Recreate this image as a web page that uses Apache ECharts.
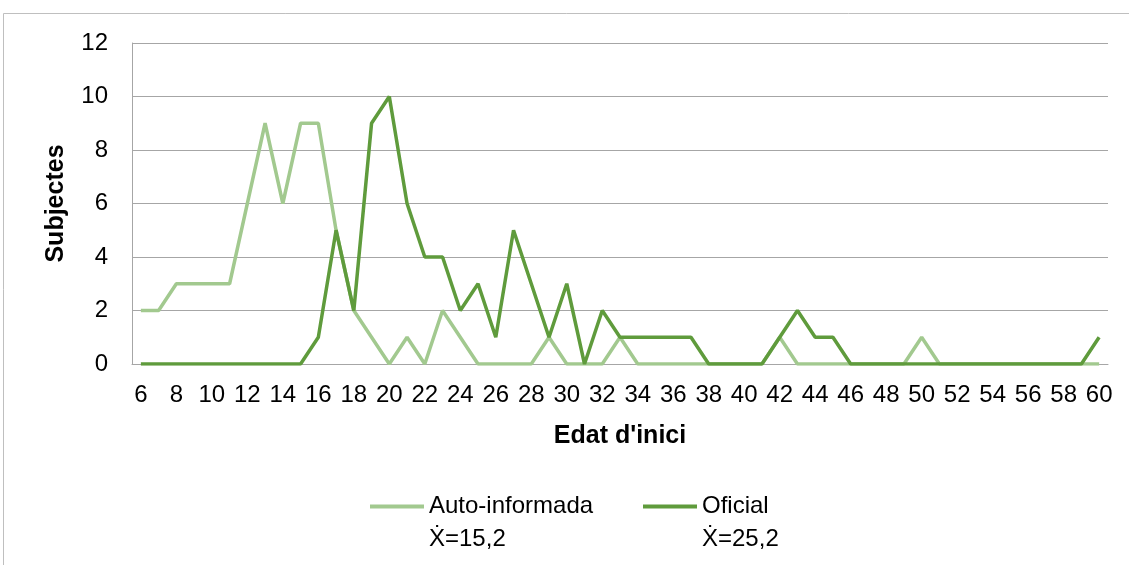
<!DOCTYPE html>
<html lang="ca">
<head>
    <meta charset="UTF-8">
    <title>Edat d'inici</title>
    <script src="https://cdn.jsdelivr.net/npm/echarts@6/dist/echarts.min.js"></script>
    <style>
        html, body { margin: 0; padding: 0; background: #fff; }
        #chart { width: 1129px; height: 565px; }
    </style>
</head>
<body>
    <div id="chart"></div>
    <script>
        // edats 6..60
        const ages = [];
        for (let a = 6; a <= 60; a++) ages.push(String(a));

        const autoInformada = [
            2, 2, 3, 3, 3, 3, 6, 9, 6, 9,   // 6-15
            9, 5, 2, 1, 0, 1, 0, 2, 1, 0,   // 16-25
            0, 0, 0, 1, 0, 0, 0, 1, 0, 0,   // 26-35
            0, 0, 0, 0, 0, 0, 1, 0, 0, 0,   // 36-45
            0, 0, 0, 0, 1, 0, 0, 0, 0, 0,   // 46-55
            0, 0, 0, 0, 0                   // 56-60
        ];
        const oficial = [
            0, 0, 0, 0, 0, 0, 0, 0, 0, 0,   // 6-15
            1, 5, 2, 9, 10, 6, 4, 4, 2, 3,  // 16-25
            1, 5, 3, 1, 3, 0, 2, 1, 1, 1,   // 26-35
            1, 1, 0, 0, 0, 0, 1, 2, 1, 1,   // 36-45
            0, 0, 0, 0, 0, 0, 0, 0, 0, 0,   // 46-55
            0, 0, 0, 0, 1                   // 56-60
        ];
        const means = { 'Auto-informada': 'Ẋ=15,2', 'Oficial': 'Ẋ=25,2' };

        const chart = echarts.init(document.getElementById('chart'));
        const font = 'Liberation Sans, Arial, sans-serif';

        // una llegenda per sèrie; línia buida al davant perquè el nom quedi a l'alçada de la icona
        function legendAt(name, left) {
            return {
                top: 457,
                left: left,
                padding: 0,
                itemWidth: 54,
                itemHeight: 4,
                icon: 'rect',
                data: [name],
                formatter: n => '\n' + n + '\n' + means[n],
                textStyle: { fontSize: 24, color: '#000', lineHeight: 33, fontFamily: font }
            };
        }

        chart.setOption({
            animation: false,
            textStyle: { fontFamily: font },
            graphic: [{
                type: 'rect',
                shape: { x: 3.5, y: 13.5, width: 1130, height: 560 },
                style: { fill: 'none', stroke: '#bfbfbf', lineWidth: 1 }
            }],
            grid: { left: 132, right: 21, top: 43, bottom: 201 },
            legend: [legendAt('Auto-informada', 370), legendAt('Oficial', 643)],
            xAxis: {
                type: 'category',
                data: ages,
                boundaryGap: true,
                name: "Edat d'inici",
                nameLocation: 'middle',
                nameGap: 60,
                nameTextStyle: { fontSize: 25, fontWeight: 'bold', color: '#000' },
                axisLine: { lineStyle: { color: '#a6a6a6', width: 1 } },
                axisTick: { show: false },
                axisLabel: { interval: 1, fontSize: 24, color: '#000', margin: 19 }
            },
            yAxis: {
                type: 'value',
                min: 0,
                max: 12,
                interval: 2,
                name: 'Subjectes',
                nameLocation: 'middle',
                nameGap: 63,
                nameRotate: 90,
                nameTextStyle: { fontSize: 25, fontWeight: 'bold', color: '#000' },
                axisLine: { show: true, lineStyle: { color: '#a6a6a6' } },
                axisTick: { show: false },
                axisLabel: { fontSize: 24, color: '#000', margin: 24 },
                splitLine: { lineStyle: { color: '#a6a6a6', width: 1 } }
            },
            series: [{
                name: 'Auto-informada',
                type: 'line',
                data: autoInformada,
                symbol: 'none',
                color: '#a2c98f',
                lineStyle: { width: 3.5, color: '#a2c98f' }
            }, {
                name: 'Oficial',
                type: 'line',
                data: oficial,
                symbol: 'none',
                color: '#5f9b3c',
                lineStyle: { width: 3.5, color: '#5f9b3c' }
            }]
        });
    </script>
</body>
</html>
